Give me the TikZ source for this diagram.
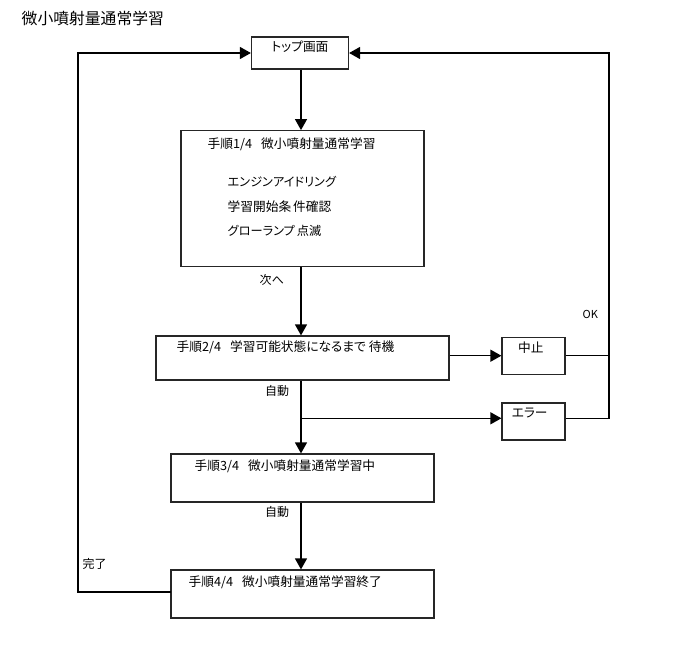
\documentclass[tikz,border=0pt]{standalone}
\usepackage{fontspec}
\setmainfont{Noto Sans CJK JP}[RawFeature=+palt]
\usetikzlibrary{arrows.meta}
\newcommand{\gapsp}{\hspace{9pt}}
\tikzset{
  box/.style={draw=black!85, line width=1.2pt, rectangle, inner sep=0pt},
  txt/.style={font=\fontsize{12.7}{15}\selectfont, inner sep=0pt, anchor=west},
  lbl/.style={font=\fontsize{12}{14}\selectfont, inner sep=0pt, anchor=west},
  conn/.style={line width=1.2pt, black},
  arr/.style={conn, -{Triangle[length=11pt,width=12pt]}}
}
\begin{document}
\begin{tikzpicture}[x=1pt,y=-1pt]
\useasboundingbox (0,0) rectangle (688,658);
% title
\node[font=\fontsize{15.8}{18}\selectfont, inner sep=0pt, anchor=west] (title) at (21.5,18) {微小噴射量通常学習};
% boxes
\node[box, minimum width=97pt, minimum height=32pt] (top) at (300,53) {};
\node[box, minimum width=243pt, minimum height=136pt] (s1) at (302.5,198.7) {};
\node[box, minimum width=293pt, minimum height=44pt] (s2) at (302.5,358) {};
\node[box, minimum width=63pt, minimum height=37pt] (stop) at (533.5,355.7) {};
\node[box, minimum width=63pt, minimum height=37pt] (err) at (533.5,421.5) {};
\node[box, minimum width=263pt, minimum height=48pt] (s3) at (302.5,478) {};
\node[box, minimum width=263pt, minimum height=48pt] (s4) at (302.5,594) {};
% texts
\node[txt, anchor=center] (ttop) at (300,47) {トップ画面};
\node[txt] (t1) at (207.5,144) {手順1/4\gapsp 微小噴射量通常学習};
\node[txt, font=\fontsize{12.2}{15}\selectfont] (t1a) at (227.5,182) {エンジンアイドリング};
\node[txt] (t1b) at (227.5,206.5) {学習開始条\hspace{2pt}件確認};
\node[txt, font=\fontsize{12.2}{15}\selectfont] (t1c) at (227.5,230.5) {グローランプ\hspace{2pt}点滅};
\node[txt] (t2) at (176.5,347) {手順2/4\gapsp 学習可能状態になるまで\hspace{3pt}待機};
\node[txt, anchor=center] (tstop) at (530.8,347.3) {中止};
\node[txt, anchor=center] (terr) at (529.7,413.3) {エラー};
\node[txt] (t3) at (194.5,466) {手順3/4\gapsp 微小噴射量通常学習中};
\node[txt] (t4) at (188.5,582.3) {手順4/4\gapsp 微小噴射量通常学習終了};
% labels
\node[lbl] (lnext) at (259.5,280) {次へ};
\node[lbl] (lauto1) at (265,391) {自動};
\node[lbl] (lauto2) at (265,512.3) {自動};
\node[lbl, font=\fontsize{11}{13}\selectfont] (lok) at (582.5,314.3) {OK};
\node[lbl] (ldone) at (82.5,564) {完了};
% helper coordinates
\coordinate (vx) at (301,0);
\coordinate (lx) at (78,0);
\coordinate (rx) at (609,0);
\coordinate (br) at (301,418.3);
\coordinate (lret) at (170.7,592);
% connectors
\draw[arr] (vx |- top.south) -- (vx |- s1.north);
\draw[arr] (vx |- s1.south) -- (vx |- s2.north);
\draw[arr] (vx |- s2.south) -- (vx |- s3.north);
\draw[arr] (vx |- s3.south) -- (vx |- s4.north);
\draw[arr] (s2.east |- stop.west) -- (stop.west);
\draw[arr] (br) -- (br -| err.west);
\draw[conn] (stop.east) -- (stop.east -| rx);
\draw[arr] (err.east |- br) -- (rx |- br) |- (top.east);
\draw[arr] (lret) -- (lx |- lret) |- (top.west);
\end{tikzpicture}
\end{document}
